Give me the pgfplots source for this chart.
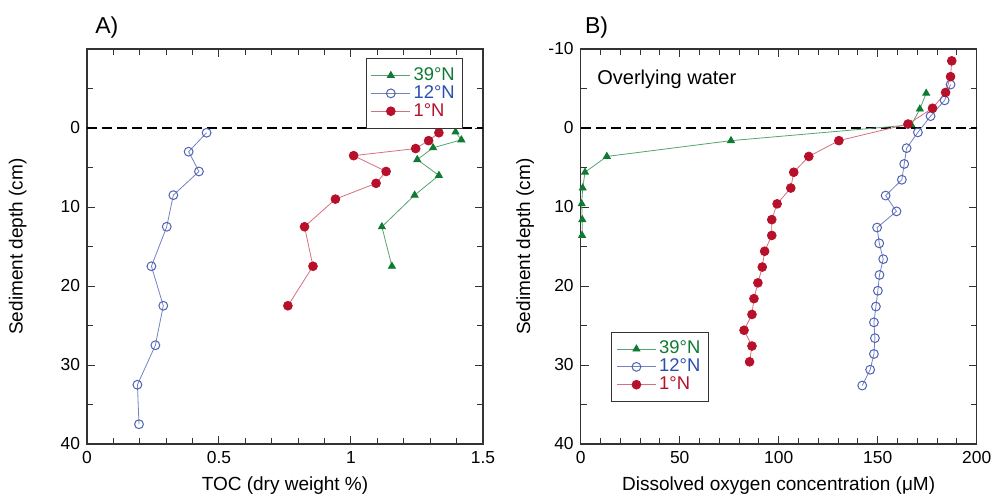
\documentclass[border=0pt]{standalone}
\usepackage{fontspec}
\setmainfont{Liberation Sans}
\usepackage{pgfplots}
\pgfplotsset{compat=1.18}
\definecolor{cgreen}{HTML}{0E7A34}
\definecolor{cblue}{HTML}{4F62B4}
\definecolor{cred}{HTML}{B8102A}
\definecolor{ctxtblue}{HTML}{2A4FB0}
\definecolor{framegray}{HTML}{333333}

\pgfplotsset{
  panel/.style={
    scale only axis, width=198pt, height=197.5pt,
    y dir=reverse, ymin=-10, ymax=40, clip=false,
    axis line style={framegray, line width=0.7pt},
    tick style={framegray, line width=0.5pt},
    major tick length=4pt, minor tick length=3pt,
    tick align=inside, xtick pos=both, ytick pos=both,
    minor ytick={-5,5,15,25,35},
    tick label style={font=\fontsize{8.7}{10}\selectfont},
    label style={font=\fontsize{9.5}{11}\selectfont},
    /pgf/number format/assume math mode=true,
    ylabel={Sediment depth (cm)},
    legend cell align=left,
    legend image code/.code={\draw[mark repeat=2,mark phase=2] plot coordinates {(0cm,0cm) (0.34cm,0cm) (0.68cm,0cm)};},
    legend style={font=\fontsize{9.2}{10}\selectfont, draw=framegray, line width=0.5pt,
      inner xsep=2.5pt, inner ysep=2.5pt, row sep=-3pt, nodes={inner xsep=1.5pt}},
  },
  g39/.style={cgreen!70, line width=0.4pt, mark=triangle*, mark size=2pt, mark options={solid, draw=cgreen, fill=cgreen}},
  g12/.style={cblue!80, line width=0.4pt, mark=o, mark size=2.2pt, mark options={solid, draw=cblue, fill=white, line width=0.5pt}},
  g1/.style={cred!60, line width=0.4pt, mark=*, mark size=2.2pt, mark options={solid, draw=cred, fill=cred}},
}

\begin{document}
\begin{tikzpicture}
\path[use as bounding box] (-43.5pt,-26.5pt) rectangle (453pt,222pt);

\begin{axis}[panel, at={(0pt,0pt)}, anchor=south west,
  xmin=0, xmax=1.5, xtick={0,0.5,1,1.5}, xticklabels={0,0.5,1,1.5},
  minor x tick num=4,
  ytick={0,10,20,30,40},
  xlabel={TOC (dry weight \%)},
  ylabel style={at={(axis description cs:-0.175,0.5)}, anchor=center},
  legend style={at={(0.95,0.977)}, anchor=north east},
]
\addplot[black, dashed, dash pattern=on 5pt off 2.5pt, line width=0.7pt, forget plot] coordinates {(0,0) (1.5,0)};
\addplot[g39] coordinates {
(1.396,0.5) (1.418,1.5) (1.311,2.5) (1.251,4.0) (1.333,6.0) (1.241,8.5) (1.117,12.5) (1.155,17.5)};
\addlegendentry{\textcolor{cgreen}{39°N}}
\addplot[g12] coordinates {
(0.453,0.6) (0.385,3.0) (0.424,5.5) (0.327,8.5) (0.302,12.5) (0.244,17.5) (0.289,22.5) (0.259,27.5) (0.191,32.5) (0.197,37.5)};
\addlegendentry{\textcolor{ctxtblue}{12°N}}
\addplot[g1] coordinates {
(1.333,0.6) (1.294,1.6) (1.245,2.6) (1.010,3.5) (1.133,5.5) (1.095,7.0) (0.941,9.0) (0.824,12.5) (0.856,17.5) (0.761,22.5)};
\addlegendentry{\textcolor{cred}{1°N}}
\node[anchor=base west, inner sep=0pt, font=\fontsize{11.5}{13}\selectfont] at (axis description cs:0.02,1.04) {A)};
\end{axis}

\begin{axis}[panel, at={(246.85pt,0pt)}, anchor=south west,
  xmin=0, xmax=200, xtick={0,50,100,150,200},
  minor x tick num=4,
  ytick={-10,0,10,20,30,40},
  xlabel={Dissolved oxygen concentration (μM)},
  ylabel style={at={(axis description cs:-0.14,0.5)}, anchor=center},
  legend style={at={(0.077,0.106)}, anchor=south west},
]
\addplot[black, dashed, dash pattern=on 5pt off 2.5pt, line width=0.7pt, forget plot] coordinates {(0,0) (200,0)};
\addplot[g39] coordinates {
(174.5,-4.4) (171.3,-2.4) (167.0,-0.4) (75.9,1.6) (13.2,3.6) (2.2,5.6) (1.0,7.6) (0.5,9.6) (0.8,11.6) (0.7,13.6)};
\addlegendentry{\textcolor{cgreen}{39°N}}
\addplot[g12] coordinates {
(186.8,-5.5) (183.8,-3.5) (176.7,-1.5) (170.3,0.55) (164.6,2.55) (163.4,4.55) (162.2,6.55) (154.0,8.55) (159.5,10.55) (149.7,12.6) (150.8,14.6) (152.8,16.6) (150.9,18.6) (150.1,20.6) (149.1,22.6) (148.1,24.6) (148.6,26.6) (148.1,28.6) (146.2,30.6) (142.2,32.6)};
\addlegendentry{\textcolor{ctxtblue}{12°N}}
\addplot[g1] coordinates {
(187.4,-8.5) (186.8,-6.5) (184.3,-4.5) (177.7,-2.5) (165.3,-0.5) (130.4,1.6) (115.2,3.6) (107.6,5.6) (106.1,7.6) (99.2,9.6) (96.5,11.6) (96.5,13.6) (92.9,15.6) (91.7,17.6) (89.5,19.6) (87.5,21.6) (86.5,23.6) (82.5,25.6) (86.5,27.6) (85.3,29.6)};
\addlegendentry{\textcolor{cred}{1°N}}
\node[anchor=west, inner sep=0pt, font=\fontsize{10}{12}\selectfont] at (axis cs:8.2,-6.2) {Overlying water};
\node[anchor=base west, inner sep=0pt, font=\fontsize{11.5}{13}\selectfont] at (axis description cs:0.01,1.04) {B)};
\end{axis}
\end{tikzpicture}
\end{document}
